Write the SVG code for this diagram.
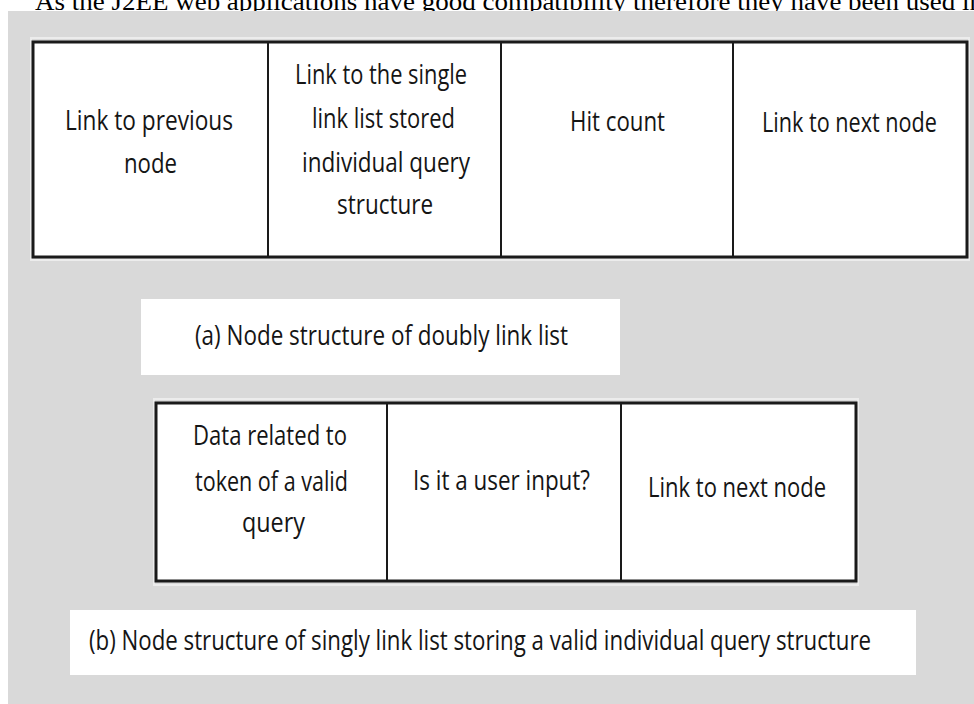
<svg xmlns="http://www.w3.org/2000/svg" width="974" height="704" viewBox="0 0 974 704">
  <style>
    .body { font-family: "Liberation Serif", "Times New Roman", serif; font-size: 26px; fill: #000; }
    .lbl { font-family: "Open Sans", "Noto Sans", "Liberation Sans", sans-serif; font-size: 27px; fill: #151515; }
    .cell { fill: #ffffff; stroke: #1a1a1a; stroke-width: 2; }
    .frame { fill: none; stroke: #1a1a1a; stroke-width: 3; }
    .halo { fill: none; stroke: #ececec; stroke-width: 2; }
    .cap { fill: #ffffff; }
  </style>

  <!-- running text line above the figure -->
  <text class="body" x="35" y="10" textLength="948" lengthAdjust="spacingAndGlyphs">As the J2EE web applications have good compatibility therefore they have been used in</text>

  <!-- figure panel -->
  <rect x="8" y="11" width="966" height="693" fill="#d9d9d9"/>

  <!-- (a) doubly linked list node -->
  <g id="doubly-node">
    <rect class="halo" x="31" y="38" width="938" height="222"/>
    <g id="a-prev">
      <rect class="cell" x="33" y="42" width="235" height="215"/>
      <text class="lbl" x="65" y="130" textLength="168" lengthAdjust="spacingAndGlyphs">Link to previous</text>
      <text class="lbl" x="124" y="173" textLength="53" lengthAdjust="spacingAndGlyphs">node</text>
    </g>
    <g id="a-query">
      <rect class="cell" x="268" y="42" width="233" height="215"/>
      <text class="lbl" x="295" y="84" textLength="172" lengthAdjust="spacingAndGlyphs">Link to the single</text>
      <text class="lbl" x="312" y="128" textLength="143" lengthAdjust="spacingAndGlyphs">link list stored</text>
      <text class="lbl" x="302" y="172" textLength="168" lengthAdjust="spacingAndGlyphs">individual query</text>
      <text class="lbl" x="337" y="214" textLength="96" lengthAdjust="spacingAndGlyphs">structure</text>
    </g>
    <g id="a-hits">
      <rect class="cell" x="501" y="42" width="232" height="215"/>
      <text class="lbl" x="570" y="131" textLength="95" lengthAdjust="spacingAndGlyphs">Hit count</text>
    </g>
    <g id="a-next">
      <rect class="cell" x="733" y="42" width="234" height="215"/>
      <text class="lbl" x="762" y="132" textLength="175" lengthAdjust="spacingAndGlyphs">Link to next node</text>
    </g>
    <rect class="frame" x="33" y="42" width="934" height="215"/>
  </g>

  <g id="caption-a">
    <rect class="cap" x="141" y="299" width="479" height="76"/>
    <text class="lbl" x="195" y="345" textLength="373" lengthAdjust="spacingAndGlyphs">(a) Node structure of doubly link list</text>
  </g>

  <!-- (b) singly linked list node -->
  <g id="singly-node">
    <rect class="halo" x="154" y="399" width="704" height="186"/>
    <g id="b-data">
      <rect class="cell" x="156" y="403" width="231" height="178"/>
      <text class="lbl" x="193" y="445" textLength="154" lengthAdjust="spacingAndGlyphs">Data related to</text>
      <text class="lbl" x="195" y="491" textLength="153" lengthAdjust="spacingAndGlyphs">token of a valid</text>
      <text class="lbl" x="242" y="532" textLength="63" lengthAdjust="spacingAndGlyphs">query</text>
    </g>
    <g id="b-input">
      <rect class="cell" x="387" y="403" width="234" height="178"/>
      <text class="lbl" x="413" y="490" textLength="177" lengthAdjust="spacingAndGlyphs">Is it a user input?</text>
    </g>
    <g id="b-next">
      <rect class="cell" x="621" y="403" width="235" height="178"/>
      <text class="lbl" x="648" y="497" textLength="178" lengthAdjust="spacingAndGlyphs">Link to next node</text>
    </g>
    <rect class="frame" x="156" y="403" width="700" height="178"/>
  </g>

  <g id="caption-b">
    <rect class="cap" x="70" y="610" width="846" height="65"/>
    <text class="lbl" x="89" y="650" textLength="782" lengthAdjust="spacingAndGlyphs">(b) Node structure of singly link list storing a valid individual query structure</text>
  </g>
</svg>
